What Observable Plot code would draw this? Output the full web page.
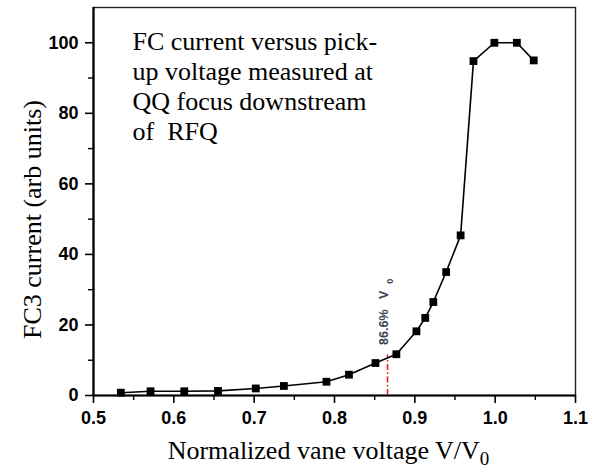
<!DOCTYPE html>
<html>
<head>
<meta charset="utf-8">
<script src="https://cdn.jsdelivr.net/npm/d3@7"></script>
<script src="https://cdn.jsdelivr.net/npm/@observablehq/plot@0.6"></script>
<style>
  html, body { margin: 0; padding: 0; background: #fff; }
  #chart svg { display: block; }
</style>
</head>
<body>
<div id="chart"></div>
<script>
// Normalized vane voltage V/V0 and the Faraday-cup (FC3) current at each setting
const voltage = [0.534, 0.571, 0.613, 0.655, 0.702, 0.737, 0.790, 0.818, 0.851, 0.877,
                 0.902, 0.913, 0.923, 0.939, 0.957, 0.973, 0.999, 1.027, 1.048];
const current = [0.8, 1.2, 1.2, 1.3, 2.0, 2.7, 3.9, 5.9, 9.2, 11.7,
                 18.2, 22.0, 26.5, 35.0, 45.4, 94.8, 100, 100, 95];

// Threshold marker at 86.6% of the nominal vane voltage
const threshold = [{v: 0.866, i: 11.5}];

// Axis ticks
const xMajor = [0.5, 0.6, 0.7, 0.8, 0.9, 1.0, 1.1];
const xMinor = [0.55, 0.65, 0.75, 0.85, 0.95, 1.05];
const yMajor = [0, 20, 40, 60, 80, 100];
const yMinor = [10, 30, 50, 70, 90];

const noteLines = ["FC current versus pick-", "up voltage measured at", "QQ focus downstream", "of  RFQ"];

const points = voltage.map((v, k) => ({v, i: current[k]}));

const tickFont = {fontWeight: "bold", fontSize: 18, fontFamily: "'Liberation Sans', Arial, sans-serif"};
const serif = "'Liberation Serif', 'Times New Roman', serif";

const chart = Plot.plot({
  width: 598,
  height: 470,
  marginLeft: 93,
  marginRight: 23,
  marginTop: 7,
  marginBottom: 75,
  style: {background: "#fff", color: "#000", fontFamily: serif},
  x: {domain: [0.5, 1.1]},
  y: {domain: [0, 110]},
  marks: [
    // plot frame (top and right edges)
    Plot.frame({stroke: "#222", strokeWidth: 1.4}),
    // minor ticks
    Plot.axisX(xMinor, {tickSize: 5, text: null, label: null, strokeWidth: 1.4}),
    Plot.axisY(yMinor, {tickSize: 5, text: null, label: null, strokeWidth: 1.4}),
    // major ticks with labels
    Plot.axisX(xMajor, {tickSize: 8, tickPadding: 8, tickFormat: d3.format(".1f"), label: null, strokeWidth: 1.6, ...tickFont}),
    Plot.axisY(yMajor, {tickSize: 8, tickPadding: 7, tickFormat: d3.format("d"), label: null, strokeWidth: 1.6, ...tickFont}),
    // heavy left and bottom axis lines
    Plot.ruleX([0.5], {strokeWidth: 2.2}),
    Plot.ruleY([0], {strokeWidth: 2.2}),
    // threshold line
    Plot.ruleX(threshold, {x: "v", y1: 0, y2: "i", stroke: "#e8141c", strokeWidth: 1.5, strokeDasharray: "6,2.5,1.5,2.5"}),
    Plot.text(threshold, {x: "v", y: "i", text: () => "86.6%   V", className: "thr-label",
      rotate: -90, textAnchor: "start", lineAnchor: "middle", dx: -4, dy: -10, fontSize: 12.5, fontWeight: "bold",
      fill: "#3a3f52", fontFamily: "'Liberation Sans Narrow', 'Liberation Sans', sans-serif"}),
    // measured curve
    Plot.line(points, {x: "v", y: "i", stroke: "#000", strokeWidth: 1.6}),
    Plot.dot(points, {x: "v", y: "i", symbol: "square", r: 4.4, fill: "#000", stroke: "none"}),
    // annotation
    Plot.text([noteLines.join("\n")], {frameAnchor: "top-left", dx: 39, dy: 21,
      textAnchor: "start", lineAnchor: "top", lineHeight: 1.155, fontSize: 26, fill: "#000"}),
    // axis titles
    Plot.text(["FC3 current (arb units)"], {frameAnchor: "left", rotate: -90, dx: -61, dy: 18,
      textAnchor: "middle", lineAnchor: "middle", fontSize: 26, fill: "#000"}),
    Plot.text(["Normalized vane voltage V/V"], {frameAnchor: "bottom", dy: 55.5, dx: -6, className: "x-title",
      textAnchor: "middle", lineAnchor: "middle", fontSize: 26, fill: "#000"})
  ]
});

// subscripts "0" on the V0 labels
d3.select(chart).selectAll(".x-title text").append("tspan")
  .attr("dy", "6").attr("font-size", "19").text("0");
d3.select(chart).selectAll(".thr-label text").append("tspan")
  .attr("baseline-shift", "sub").attr("font-size", "9").attr("dx", "7").text("0");

document.getElementById("chart").appendChild(chart);
</script>
</body>
</html>
